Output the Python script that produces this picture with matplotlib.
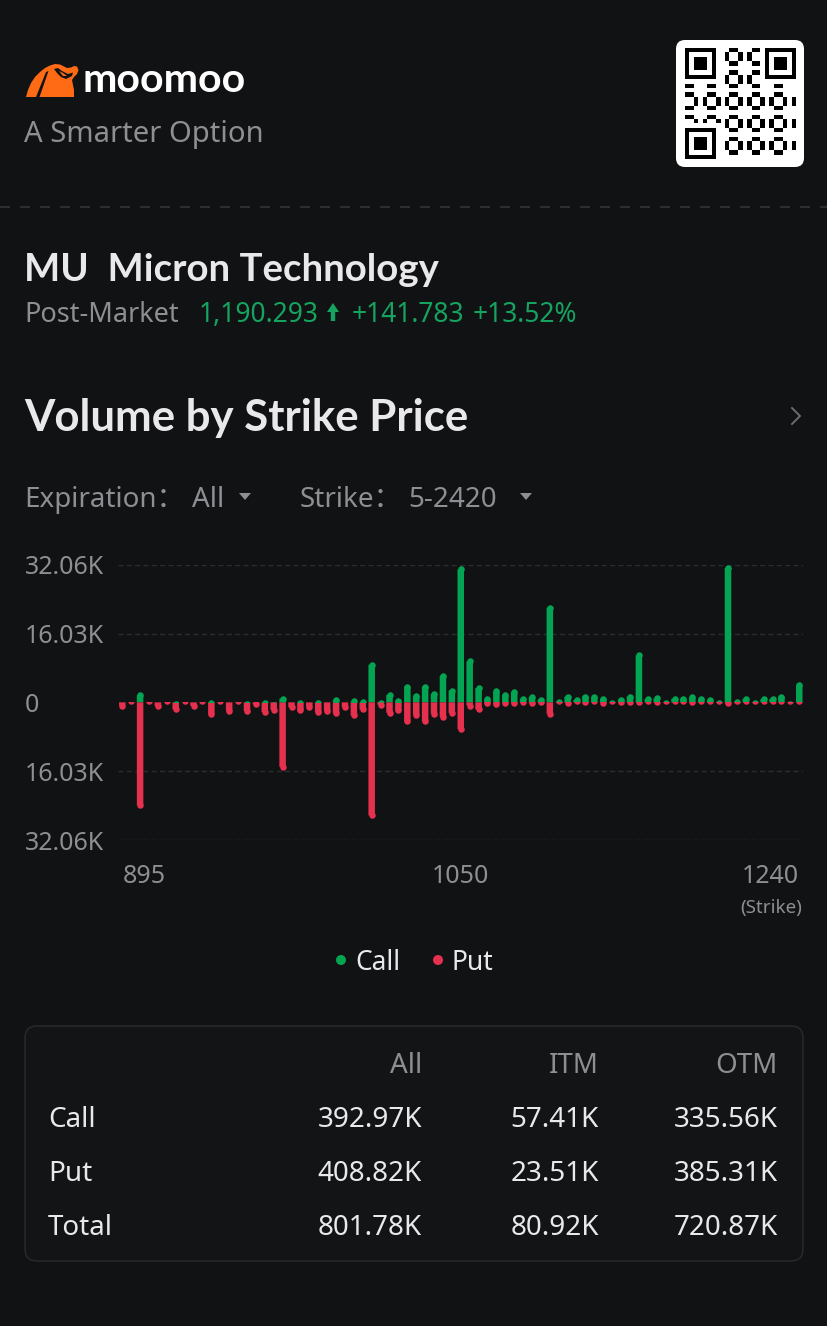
import numpy as np
import matplotlib
matplotlib.use("Agg")
import matplotlib.pyplot as plt
from matplotlib.patches import FancyBboxPatch, Polygon, Circle, Rectangle

# ---- data -------------------------------------------------------------
strikes = [895, 897.5, 900, 902.5, 905, 907.5, 910, 912.5, 915, 917.5,
           920, 922.5, 925, 927.5, 930, 935, 940, 945, 950, 955,
           960, 965, 970, 975, 980, 985, 990, 995, 1000, 1005,
           1010, 1015, 1020, 1025, 1030, 1035, 1040, 1045, 1050, 1055,
           1060, 1065, 1070, 1075, 1080, 1085, 1090, 1095, 1100, 1105,
           1110, 1115, 1120, 1125, 1130, 1135, 1140, 1145, 1150, 1155,
           1160, 1165, 1170, 1175, 1180, 1185, 1190, 1195, 1200, 1205,
           1210, 1215, 1220, 1225, 1230, 1235, 1240]

# volumes in K
call_k = [0, 0, 2.45, 0, 0, 0, 0.3, 0, 0, 0,
          0.5, 0, 0, 0, 0.3, 0, 0.6, 0.2, 1.6, 0,
          0.5, 0, 0.5, 0, 1.3, 0, 1.0, 0.8, 9.5, 0.7,
          2.5, 1.1, 4.4, 2.3, 4.4, 2.7, 6.9, 3.5, 31.7, 10.3,
          4.1, 1.5, 3.3, 2.5, 3.1, 1.5, 2.0, 1.4, 22.8, 0.9,
          2.1, 1.3, 2.1, 1.9, 1.6, 0.6, 1.4, 2.1, 11.7, 1.5,
          1.7, 0.7, 1.6, 1.6, 1.9, 1.6, 1.3, 0.6, 32.06, 0.8,
          1.6, 0.5, 1.5, 1.5, 2.1, 0.4, 4.8]

put_k = [1.5, 0.5, 24.7, 0.5, 1.6, 0.4, 2.4, 0.4, 1.6, 0.4,
         3.5, 0.4, 2.8, 0.5, 2.8, 1.2, 3.0, 2.5, 15.8, 1.9,
         2.6, 1.8, 3.0, 2.8, 3.3, 1.9, 3.8, 2.4, 27.1, 1.3,
         3.2, 2.6, 5.2, 3.7, 5.2, 3.4, 4.2, 3.2, 7.0, 1.5,
         2.4, 1.0, 1.2, 0.8, 1.0, 0.7, 1.0, 0.6, 3.4, 0.5,
         0.9, 0.5, 0.6, 0.5, 0.9, 0.5, 0.6, 0.6, 0.7, 0.5,
         0.6, 0.5, 0.5, 0.5, 0.7, 0.5, 0.5, 0.4, 1.0, 0.5,
         0.5, 0.4, 0.5, 0.5, 0.5, 0.5, 0.5]

y_max = 32.06
y_ticks = [32.06, 16.03, 0, -16.03, -32.06]
y_tick_labels = ["32.06K", "16.03K", "0", "16.03K", "32.06K"]
x_tick_strikes = [895, 1050, 1240]

table_cols = ["All", "ITM", "OTM"]
table_rows = ["Call", "Put", "Total"]
table_vals = [["392.97K", "57.41K", "335.56K"],
              ["408.82K", "23.51K", "385.31K"],
              ["801.78K", "80.92K", "720.87K"]]

# ---- style ------------------------------------------------------------
W, H = 828, 1326
BG = "#111214"
WHITE = "#e9e9eb"
GRAY = "#8e8f93"
GREEN = "#03a553"
RED = "#e5304e"
PRICE_GREEN = "#16a35f"
GRID = "#2c2d30"
ORANGE = "#ff6a14"
BOLD_FONT = ["Lato", "DejaVu Sans"]

plt.rcParams["font.family"] = ["Noto Sans", "Noto Sans CJK SC", "DejaVu Sans"]
plt.rcParams["lines.scale_dashes"] = False

fig = plt.figure(figsize=(W / 100, H / 100), dpi=100, facecolor=BG)

# background axes in pixel coordinates for the page decoration
bg = fig.add_axes([0, 0, 1, 1], zorder=0)
bg.axis("off")
bg.set_facecolor(BG)


def txt(x, y, s, size, color=WHITE, ha="left", bold=False):
    if bold:
        bg.text(x, y, s, fontsize=size, color=color, ha=ha, va="baseline",
                fontweight="bold", family=BOLD_FONT)
    else:
        bg.text(x, y, s, fontsize=size, color=color, ha=ha, va="baseline")


# logo
bg.add_patch(Polygon([(26, 97), (28, 90), (31, 83), (35, 77), (40, 72), (45, 68), (50, 65.5),
                      (55, 64), (60, 64.5), (63, 66), (67, 68), (71, 67.5), (74, 66), (77, 66.5),
                      (78.5, 70), (77, 74), (74, 77), (72, 80), (73, 85), (74, 90), (74, 97)],
                     closed=True, fc=ORANGE, ec="none"))
bg.add_patch(Polygon([(36, 97), (46, 72), (48.5, 71), (39.5, 97)], fc=BG, ec="none"))
bg.add_patch(Polygon([(54, 69), (58, 68), (62, 71), (68, 74), (73, 72.5), (72, 76), (66, 79),
                      (61, 77), (57, 73)], fc=BG, ec="none"))
bg.add_patch(Polygon([(59, 71), (63, 73), (67, 76), (63, 76)], fc=ORANGE, ec="none"))
txt(83, 92, "moomoo", 29.5, color="#ffffff", bold=True)
txt(24, 142, "A Smarter Option", 21, color=GRAY)

# qr box
bg.add_patch(FancyBboxPatch((676, 40), 128, 127, boxstyle="round,pad=0,rounding_size=9",
                            fc="#ffffff", ec="none"))
n = 25
qr = np.zeros((n, n))
for i in range(n):
    for j in range(n):
        qr[i, j] = 1 if (i * 7 + j * 11 + i * j) % 5 < 2 else 0
for (r0, c0) in [(0, 0), (0, n - 7), (n - 7, 0)]:
    qr[max(r0 - 1, 0):r0 + 8, max(c0 - 1, 0):c0 + 8] = 0
    qr[r0:r0 + 7, c0:c0 + 7] = 1
    qr[r0 + 1:r0 + 6, c0 + 1:c0 + 6] = 0
    qr[r0 + 2:r0 + 5, c0 + 2:c0 + 5] = 1
bg.imshow(qr, cmap="gray_r", extent=(685, 796, 159, 48), interpolation="nearest", zorder=3)
bg.set_xlim(0, W)
bg.set_ylim(H, 0)
bg.set_aspect("auto")

# separator
bg.plot([0, W], [207, 207], color="#2d2e31", lw=1.5, ls=(0, (7.2, 7.2)))

# stock header
txt(24, 281, "MU  Micron Technology", 27.6, bold=True)
txt(24, 322, "Post-Market", 19.5, color=GRAY)
txt(199, 322, "1,190.293", 19, color=PRICE_GREEN)
bg.add_patch(Polygon([(327, 312), (333, 303), (339, 312), (335.2, 312), (335.2, 321),
                      (330.8, 321), (330.8, 312)], fc=PRICE_GREEN, ec="none"))
txt(352, 322, "+141.783", 19, color=PRICE_GREEN)
txt(473, 322, "+13.52%", 19, color=PRICE_GREEN)

# section title
txt(24, 431, "Volume by Strike Price", 31.5, bold=True)
bg.plot([792, 800, 792], [408, 416, 424], color="#6c6d71", lw=1.4)

txt(24, 507, "Expiration\uff1a", 20, color=GRAY)
txt(192, 507, "All", 20, color=GRAY)
bg.add_patch(Polygon([(239, 493), (251, 493), (245, 500)], fc=GRAY, ec="none"))
txt(300, 507, "Strike\uff1a", 20, color=GRAY)
txt(408, 507, "5-2420", 20, color=GRAY)
bg.add_patch(Polygon([(520, 493), (532, 493), (526, 500)], fc=GRAY, ec="none"))

# ---- chart ------------------------------------------------------------
ax_l, ax_r, ax_t, ax_b = 118, 803, 564.7, 840
ax = fig.add_axes([ax_l / W, 1 - ax_b / H, (ax_r - ax_l) / W, (ax_b - ax_t) / H], zorder=2)
ax.set_facecolor("none")
for s in ax.spines.values():
    s.set_visible(False)

x = np.arange(len(strikes))
x_lo, x_hi = -0.48, len(strikes) - 1 + 0.42
ax.set_xlim(x_lo, x_hi)
ax.set_ylim(-y_max, y_max)

for yv in y_ticks:
    if yv != 0:
        ax.axhline(yv, color=GRID, lw=1, ls=(0, (3.6, 2.4)), zorder=0)

# bars with rounded tips: rectangle body + round cap marker, clipped at zero
bar_w = 0.73
px_per_slot = (ax_r - ax_l) / (x_hi - x_lo)
r_px = bar_w * px_per_slot / 2
r_data = r_px * (2 * y_max) / (ax_b - ax_t)
cap_size = (2 * r_px * 72 / 100) ** 2

call_v = np.array(call_k)
put_v = np.array(put_k)
mc = call_v > 0
mp = put_v > 0

clip_up = Rectangle((-5, 0), 100, 100, transform=ax.transData)
clip_dn = Rectangle((-5, -100), 100, 100, transform=ax.transData)

bc = ax.bar(x, np.maximum(call_v - r_data, 0), width=bar_w, color=GREEN, linewidth=0, zorder=2)
bp = ax.bar(x, -np.maximum(put_v - r_data, 0), width=bar_w, color=RED, linewidth=0, zorder=2)
for p in list(bc) + list(bp):
    p.set_snap(False)
sc = ax.scatter(x[mc], call_v[mc] - r_data, s=cap_size, color=GREEN, linewidths=0, zorder=2)
sp = ax.scatter(x[mp], -(put_v[mp] - r_data), s=cap_size, color=RED, linewidths=0, zorder=2)
sc.set_clip_path(clip_up)
sp.set_clip_path(clip_dn)

ax.set_yticks(y_ticks)
ax.set_yticklabels(y_tick_labels)
ax.tick_params(axis="y", length=0, pad=(ax_l - 25) * 0.72, labelsize=18, labelcolor=GRAY)
for lab in ax.get_yticklabels():
    lab.set_horizontalalignment("left")

xt = [strikes.index(s) for s in x_tick_strikes]
ax.set_xticks(xt)
ax.set_xticklabels([str(s) for s in x_tick_strikes])
ax.tick_params(axis="x", length=0, pad=17, labelsize=18, labelcolor=GRAY)
xl = ax.get_xticklabels()
xl[0].set_horizontalalignment("left")
xl[-1].set_horizontalalignment("right")

txt(802, 913, "(Strike)", 13.5, color=GRAY, ha="right")

# legend
bg.add_patch(Circle((341, 960), 5, fc=GREEN, ec="none"))
txt(355, 970, "Call", 19, color=WHITE)
bg.add_patch(Circle((438, 960), 5, fc=RED, ec="none"))
txt(452, 970, "Put", 19, color=WHITE)

# ---- summary table ----------------------------------------------------
bg.add_patch(FancyBboxPatch((25, 1026), 778, 235, boxstyle="round,pad=0,rounding_size=12",
                            fc="#131416", ec="#2a2b2e", lw=1))
col_x = [422, 599, 778]
for cx, c in zip(col_x, table_cols):
    txt(cx, 1073, c, 20, color=GRAY, ha="right")
row_y = [1127, 1181, 1235]
for ry, rname, vals in zip(row_y, table_rows, table_vals):
    txt(48, ry, rname, 20, color=WHITE)
    for cx, v in zip(col_x, vals):
        txt(cx, ry, v, 20, color=WHITE, ha="right")

fig.savefig("out.png", dpi=100, facecolor=BG)
